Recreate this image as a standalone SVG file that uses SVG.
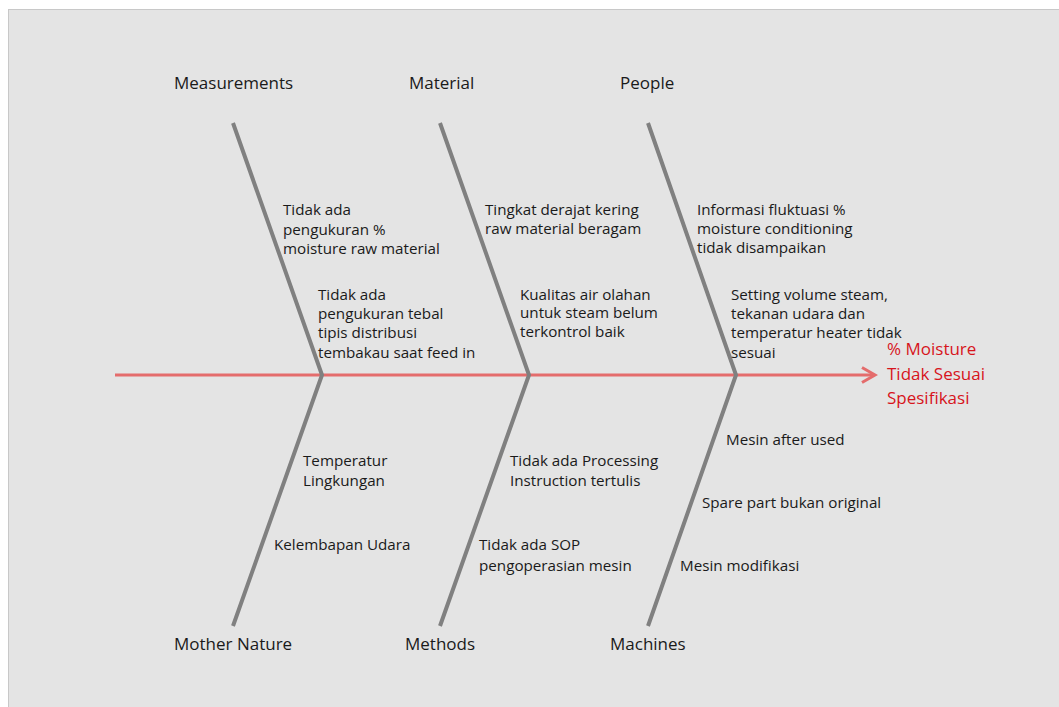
<svg xmlns="http://www.w3.org/2000/svg" width="1059" height="707" viewBox="0 0 1059 707">
  <defs>
    <style>
      .bone { fill: none; stroke: #808080; stroke-width: 4; stroke-linecap: butt; }
      .spine { fill: none; stroke: #e46c6c; stroke-width: 3; }
      .head { fill: none; stroke: #e46c6c; stroke-width: 3; stroke-linejoin: miter; }
      .cat { font-family: "Open Sans", "Noto Sans", "Liberation Sans", sans-serif; font-size: 17px; fill: #1a1a1a; }
      .cause { font-family: "Open Sans", "Noto Sans", "Liberation Sans", sans-serif; font-size: 15.2px; fill: #1a1a1a; }
      .effect { font-family: "Open Sans", "Noto Sans", "Liberation Sans", sans-serif; font-size: 17px; fill: #d7141c; }
    </style>
  </defs>

  <!-- canvas -->
  <rect x="0" y="0" width="1059" height="707" fill="#ffffff"/>
  <rect x="8.5" y="9.5" width="1060" height="710" fill="#e4e4e4" stroke="#c8c8c8" stroke-width="1"/>

  <!-- connectors: spine and category bones -->
  <g id="connectors">
    <line class="spine" x1="115" y1="375" x2="874" y2="375"/>
    <polyline class="head" points="862,367.5 875,375 862,382.5"/>
    <polyline class="bone" points="233,123 322,375 233,626"/>
    <polyline class="bone" points="440,123 529,375 440,626"/>
    <polyline class="bone" points="648,123 736,375 648,626"/>
  </g>

  <g id="effect">
    <text class="effect" x="887" y="355">% Moisture</text>
    <text class="effect" x="887" y="380">Tidak Sesuai</text>
    <text class="effect" x="887" y="404">Spesifikasi</text>
  </g>

  <g id="measurements">
    <text class="cat" x="174" y="89">Measurements</text>
    <text class="cause" x="283" y="215">Tidak ada</text>
    <text class="cause" x="283" y="235">pengukuran %</text>
    <text class="cause" x="283" y="254">moisture raw material</text>
    <text class="cause" x="318" y="300">Tidak ada</text>
    <text class="cause" x="318" y="319">pengukuran tebal</text>
    <text class="cause" x="318" y="338">tipis distribusi</text>
    <text class="cause" x="318" y="358">tembakau saat feed in</text>
  </g>

  <g id="material">
    <text class="cat" x="409" y="89">Material</text>
    <text class="cause" x="485" y="215">Tingkat derajat kering</text>
    <text class="cause" x="485" y="234">raw material beragam</text>
    <text class="cause" x="520" y="300">Kualitas air olahan</text>
    <text class="cause" x="520" y="318">untuk steam belum</text>
    <text class="cause" x="520" y="337">terkontrol baik</text>
  </g>

  <g id="people">
    <text class="cat" x="620" y="89">People</text>
    <text class="cause" x="697" y="215">Informasi fluktuasi %</text>
    <text class="cause" x="697" y="234">moisture conditioning</text>
    <text class="cause" x="697" y="253">tidak disampaikan</text>
    <text class="cause" x="731" y="300">Setting volume steam,</text>
    <text class="cause" x="731" y="319">tekanan udara dan</text>
    <text class="cause" x="731" y="338">temperatur heater tidak</text>
    <text class="cause" x="731" y="358">sesuai</text>
  </g>

  <g id="mother-nature">
    <text class="cat" x="174" y="650">Mother Nature</text>
    <text class="cause" x="303" y="466">Temperatur</text>
    <text class="cause" x="303" y="486">Lingkungan</text>
    <text class="cause" x="274" y="550">Kelembapan Udara</text>
  </g>

  <g id="methods">
    <text class="cat" x="405" y="650">Methods</text>
    <text class="cause" x="510" y="466">Tidak ada Processing</text>
    <text class="cause" x="510" y="486">Instruction tertulis</text>
    <text class="cause" x="479" y="550">Tidak ada SOP</text>
    <text class="cause" x="479" y="571">pengoperasian mesin</text>
  </g>

  <g id="machines">
    <text class="cat" x="610" y="650">Machines</text>
    <text class="cause" x="726" y="445">Mesin after used</text>
    <text class="cause" x="702" y="508">Spare part bukan original</text>
    <text class="cause" x="680" y="571">Mesin modifikasi</text>
  </g>
</svg>
